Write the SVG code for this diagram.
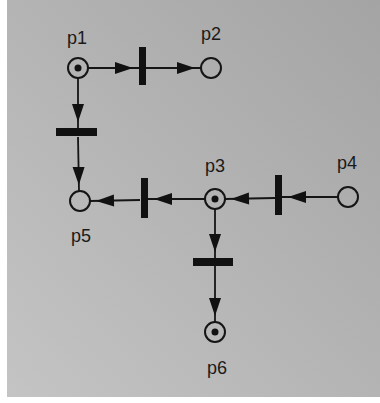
<svg xmlns="http://www.w3.org/2000/svg" width="380" height="403" viewBox="0 0 380 403">
  <defs>
    <linearGradient id="bg" x1="1" y1="0" x2="0" y2="1">
      <stop offset="0" stop-color="#a4a4a4"/>
      <stop offset="1" stop-color="#c4c4c4"/>
    </linearGradient>
    <marker id="arr" markerUnits="userSpaceOnUse" viewBox="0 0 26 14" refX="24" refY="7" markerWidth="26" markerHeight="14" orient="auto" overflow="visible">
      <path d="M0,1 L18,7 L0,13 Z" fill="#111"/>
    </marker>
    <style>
      .place { fill: none; stroke: #151515; stroke-width: 2; }
      .token { fill: #111; }
      .bar { fill: #111; }
      .arc { stroke: #151515; stroke-width: 1.8; fill: none; marker-end: url(#arr); }
      .lbl { font-family: "Liberation Sans", Arial, sans-serif; font-size: 18px; fill: #1a1a1a; text-anchor: middle; }
    </style>
  </defs>
  <rect x="0" y="0" width="380" height="403" fill="#ffffff"/>
  <rect x="7" y="0" width="373" height="397" fill="url(#bg)"/>

  <g id="connectors">
    <line class="arc" x1="88" y1="68" x2="139" y2="68"/>
    <line class="arc" x1="146" y1="68" x2="201" y2="68"/>
    <line class="arc" x1="78" y1="78" x2="78" y2="128"/>
    <line class="arc" x1="78" y1="137" x2="79" y2="191"/>
    <line class="arc" x1="205" y1="199" x2="148" y2="199"/>
    <line class="arc" x1="140" y1="200" x2="90" y2="201"/>
    <line class="arc" x1="338" y1="197" x2="282" y2="197"/>
    <line class="arc" x1="275" y1="198" x2="225" y2="199"/>
    <line class="arc" x1="215" y1="209" x2="215" y2="258"/>
    <line class="arc" x1="215" y1="266" x2="215" y2="322"/>
  </g>

  <g id="p1">
    <circle class="place" cx="78" cy="68" r="10"/>
    <circle class="token" cx="78" cy="68" r="3.5"/>
    <text class="lbl" x="77" y="44">p1</text>
  </g>
  <g id="p2">
    <circle class="place" cx="211" cy="68" r="10"/>
    <text class="lbl" x="211" y="40">p2</text>
  </g>
  <g id="p3">
    <circle class="place" cx="215" cy="199" r="10"/>
    <circle class="token" cx="215" cy="199" r="3.5"/>
    <text class="lbl" x="215" y="172">p3</text>
  </g>
  <g id="p4">
    <circle class="place" cx="348" cy="197" r="10"/>
    <text class="lbl" x="347" y="169">p4</text>
  </g>
  <g id="p5">
    <circle class="place" cx="80" cy="201" r="10"/>
    <text class="lbl" x="81" y="242">p5</text>
  </g>
  <g id="p6">
    <circle class="place" cx="215" cy="332" r="10"/>
    <circle class="token" cx="215" cy="332" r="3.5"/>
    <text class="lbl" x="217" y="374">p6</text>
  </g>

  <g id="t1"><rect class="bar" x="139" y="47" width="7" height="38"/></g>
  <g id="t2"><rect class="bar" x="56" y="128" width="41" height="8"/></g>
  <g id="t3"><rect class="bar" x="141" y="178" width="7" height="40"/></g>
  <g id="t4"><rect class="bar" x="275" y="175" width="7" height="40"/></g>
  <g id="t5"><rect class="bar" x="193" y="258" width="40" height="8"/></g>
</svg>
